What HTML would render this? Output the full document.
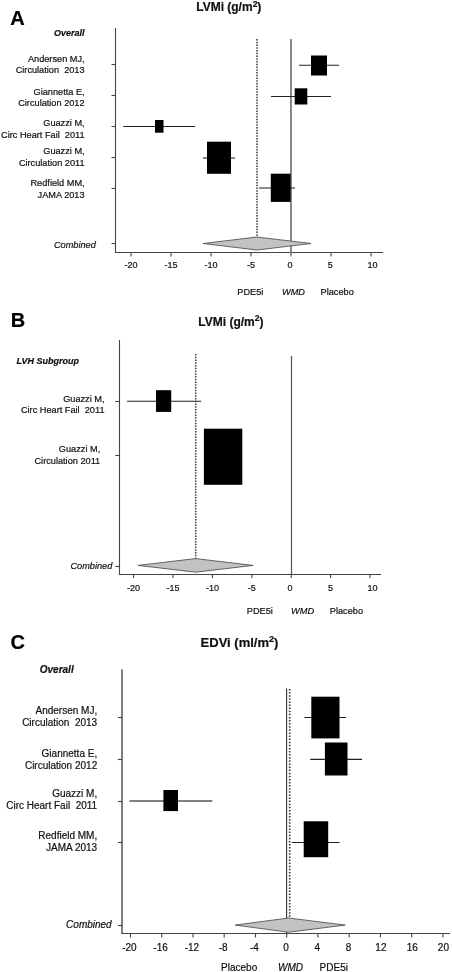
<!DOCTYPE html>
<html><head><meta charset="utf-8"><style>
html,body{margin:0;padding:0;background:#fff;width:452px;height:972px;overflow:hidden}
svg{display:block;font-family:"Liberation Sans",sans-serif;filter:grayscale(1)}
</style></head><body>
<svg width="452" height="972" viewBox="0 0 452 972">
<rect width="452" height="972" fill="#fff"/>
<text x="10.3" y="25" font-size="20" text-anchor="start" font-weight="bold" font-style="normal" fill="#000" stroke="#000" stroke-width="0.2" >A</text>
<text x="196.2" y="11" font-size="12" text-anchor="start" font-weight="bold" font-style="normal" fill="#111" stroke="#111" stroke-width="0.2" >LVMi (g/m<tspan font-size="8.5" dy="-4.2">2</tspan><tspan dy="4.2">)</tspan></text>
<line x1="115.5" y1="28" x2="115.5" y2="253.0" stroke="#444" stroke-width="1.1" />
<line x1="115.0" y1="252.5" x2="383" y2="252.5" stroke="#444" stroke-width="1.1" />
<line x1="111.5" y1="64.5" x2="115.5" y2="64.5" stroke="#444" stroke-width="1.1" />
<line x1="111.5" y1="95.5" x2="115.5" y2="95.5" stroke="#444" stroke-width="1.1" />
<line x1="111.5" y1="126.5" x2="115.5" y2="126.5" stroke="#444" stroke-width="1.1" />
<line x1="111.5" y1="157.5" x2="115.5" y2="157.5" stroke="#444" stroke-width="1.1" />
<line x1="111.5" y1="188.5" x2="115.5" y2="188.5" stroke="#444" stroke-width="1.1" />
<line x1="111.5" y1="243.5" x2="115.5" y2="243.5" stroke="#444" stroke-width="1.1" />
<line x1="131" y1="252.5" x2="131" y2="256.5" stroke="#444" stroke-width="1.1" />
<text x="131" y="267.5" font-size="9" text-anchor="middle" font-weight="normal" font-style="normal" fill="#111" stroke="#111" stroke-width="0.2" >-20</text>
<line x1="171" y1="252.5" x2="171" y2="256.5" stroke="#444" stroke-width="1.1" />
<text x="171" y="267.5" font-size="9" text-anchor="middle" font-weight="normal" font-style="normal" fill="#111" stroke="#111" stroke-width="0.2" >-15</text>
<line x1="211" y1="252.5" x2="211" y2="256.5" stroke="#444" stroke-width="1.1" />
<text x="211" y="267.5" font-size="9" text-anchor="middle" font-weight="normal" font-style="normal" fill="#111" stroke="#111" stroke-width="0.2" >-10</text>
<line x1="251" y1="252.5" x2="251" y2="256.5" stroke="#444" stroke-width="1.1" />
<text x="251" y="267.5" font-size="9" text-anchor="middle" font-weight="normal" font-style="normal" fill="#111" stroke="#111" stroke-width="0.2" >-5</text>
<line x1="291" y1="252.5" x2="291" y2="256.5" stroke="#444" stroke-width="1.1" />
<text x="290" y="267.5" font-size="9" text-anchor="middle" font-weight="normal" font-style="normal" fill="#111" stroke="#111" stroke-width="0.2" >0</text>
<line x1="331" y1="252.5" x2="331" y2="256.5" stroke="#444" stroke-width="1.1" />
<text x="330.3" y="267.5" font-size="9" text-anchor="middle" font-weight="normal" font-style="normal" fill="#111" stroke="#111" stroke-width="0.2" >5</text>
<line x1="371" y1="252.5" x2="371" y2="256.5" stroke="#444" stroke-width="1.1" />
<text x="372.5" y="267.5" font-size="9" text-anchor="middle" font-weight="normal" font-style="normal" fill="#111" stroke="#111" stroke-width="0.2" >10</text>
<line x1="257" y1="39" x2="257" y2="237.5" stroke="#3a3a3a" stroke-width="1.5" stroke-dasharray="1.4 1.35"/>
<line x1="291" y1="39" x2="291" y2="252.5" stroke="#888" stroke-width="2" />
<line x1="299" y1="65.3" x2="339" y2="65.3" stroke="#222" stroke-width="1.1" />
<rect x="311" y="55.5" width="16" height="20.0" fill="#000"/>
<line x1="271" y1="96.5" x2="331" y2="96.5" stroke="#222" stroke-width="1.1" />
<rect x="294.7" y="88.3" width="12.6" height="16.2" fill="#000"/>
<line x1="123.3" y1="126.5" x2="195.2" y2="126.5" stroke="#222" stroke-width="1.1" />
<rect x="155" y="120" width="8.5" height="12.7" fill="#000"/>
<line x1="203" y1="158" x2="235" y2="158" stroke="#222" stroke-width="1.1" />
<rect x="207" y="141.7" width="24" height="32.1" fill="#000"/>
<line x1="259" y1="188" x2="295" y2="188" stroke="#222" stroke-width="1.1" />
<rect x="270.8" y="173.7" width="19.8" height="28.2" fill="#000"/>
<polygon points="203,243.5 257,237 311,243.5 257,250" fill="#c2c2c2" stroke="#555" stroke-width="0.9"/>
<text x="84.6" y="36" font-size="9" text-anchor="end" font-weight="bold" font-style="italic" fill="#111" stroke="#111" stroke-width="0.2" >Overall</text>
<text x="84.6" y="62" font-size="9.2" text-anchor="end" font-weight="normal" font-style="normal" fill="#111" stroke="#111" stroke-width="0.2" >Andersen MJ,</text>
<text x="84.6" y="73.2" font-size="9.2" text-anchor="end" font-weight="normal" font-style="normal" fill="#111" stroke="#111" stroke-width="0.2" >Circulation&#160;&#160;2013</text>
<text x="84.6" y="94.6" font-size="9.2" text-anchor="end" font-weight="normal" font-style="normal" fill="#111" stroke="#111" stroke-width="0.2" >Giannetta E,</text>
<text x="84.6" y="105.8" font-size="9.2" text-anchor="end" font-weight="normal" font-style="normal" fill="#111" stroke="#111" stroke-width="0.2" >Circulation 2012</text>
<text x="84.6" y="126.4" font-size="9.2" text-anchor="end" font-weight="normal" font-style="normal" fill="#111" stroke="#111" stroke-width="0.2" >Guazzi M,</text>
<text x="84.6" y="137.6" font-size="9.2" text-anchor="end" font-weight="normal" font-style="normal" fill="#111" stroke="#111" stroke-width="0.2" >Circ Heart Fail&#160;&#160;2011</text>
<text x="84.6" y="154.3" font-size="9.2" text-anchor="end" font-weight="normal" font-style="normal" fill="#111" stroke="#111" stroke-width="0.2" >Guazzi M,</text>
<text x="84.6" y="165.5" font-size="9.2" text-anchor="end" font-weight="normal" font-style="normal" fill="#111" stroke="#111" stroke-width="0.2" >Circulation 2011</text>
<text x="84.6" y="186.4" font-size="9.2" text-anchor="end" font-weight="normal" font-style="normal" fill="#111" stroke="#111" stroke-width="0.2" >Redfield MM,</text>
<text x="84.6" y="197.6" font-size="9.2" text-anchor="end" font-weight="normal" font-style="normal" fill="#111" stroke="#111" stroke-width="0.2" >JAMA 2013</text>
<text x="95.8" y="247.7" font-size="9.2" text-anchor="end" font-weight="normal" font-style="italic" fill="#111" stroke="#111" stroke-width="0.2" >Combined</text>
<text x="237.3" y="295" font-size="9.2" text-anchor="start" font-weight="normal" font-style="normal" fill="#111" stroke="#111" stroke-width="0.2" >PDE5i</text>
<text x="282" y="295" font-size="9.2" text-anchor="start" font-weight="normal" font-style="italic" fill="#111" stroke="#111" stroke-width="0.2" >WMD</text>
<text x="320.6" y="295" font-size="9.2" text-anchor="start" font-weight="normal" font-style="normal" fill="#111" stroke="#111" stroke-width="0.2" >Placebo</text>
<text x="10.7" y="326.6" font-size="20" text-anchor="start" font-weight="bold" font-style="normal" fill="#000" stroke="#000" stroke-width="0.2" >B</text>
<text x="198.3" y="325.5" font-size="12" text-anchor="start" font-weight="bold" font-style="normal" fill="#111" stroke="#111" stroke-width="0.2" >LVMi (g/m<tspan font-size="8.5" dy="-4.2">2</tspan><tspan dy="4.2">)</tspan></text>
<line x1="119.5" y1="340" x2="119.5" y2="575.0" stroke="#444" stroke-width="1.1" />
<line x1="119.0" y1="574.5" x2="381" y2="574.5" stroke="#444" stroke-width="1.1" />
<line x1="115.3" y1="401.5" x2="119.5" y2="401.5" stroke="#444" stroke-width="1.1" />
<line x1="115.3" y1="455.5" x2="119.5" y2="455.5" stroke="#444" stroke-width="1.1" />
<line x1="115.3" y1="566.5" x2="119.5" y2="566.5" stroke="#444" stroke-width="1.1" />
<line x1="133.6" y1="574.5" x2="133.6" y2="578" stroke="#444" stroke-width="1.1" />
<text x="133.6" y="590.5" font-size="9" text-anchor="middle" font-weight="normal" font-style="normal" fill="#111" stroke="#111" stroke-width="0.2" >-20</text>
<line x1="173.0" y1="574.5" x2="173.0" y2="578" stroke="#444" stroke-width="1.1" />
<text x="173.0" y="590.5" font-size="9" text-anchor="middle" font-weight="normal" font-style="normal" fill="#111" stroke="#111" stroke-width="0.2" >-15</text>
<line x1="212.4" y1="574.5" x2="212.4" y2="578" stroke="#444" stroke-width="1.1" />
<text x="212.4" y="590.5" font-size="9" text-anchor="middle" font-weight="normal" font-style="normal" fill="#111" stroke="#111" stroke-width="0.2" >-10</text>
<line x1="251.8" y1="574.5" x2="251.8" y2="578" stroke="#444" stroke-width="1.1" />
<text x="251.8" y="590.5" font-size="9" text-anchor="middle" font-weight="normal" font-style="normal" fill="#111" stroke="#111" stroke-width="0.2" >-5</text>
<line x1="291.2" y1="574.5" x2="291.2" y2="578" stroke="#444" stroke-width="1.1" />
<text x="289.9" y="590.5" font-size="9" text-anchor="middle" font-weight="normal" font-style="normal" fill="#111" stroke="#111" stroke-width="0.2" >0</text>
<line x1="330.6" y1="574.5" x2="330.6" y2="578" stroke="#444" stroke-width="1.1" />
<text x="330.6" y="590.5" font-size="9" text-anchor="middle" font-weight="normal" font-style="normal" fill="#111" stroke="#111" stroke-width="0.2" >5</text>
<line x1="370.0" y1="574.5" x2="370.0" y2="578" stroke="#444" stroke-width="1.1" />
<text x="372.5" y="590.5" font-size="9" text-anchor="middle" font-weight="normal" font-style="normal" fill="#111" stroke="#111" stroke-width="0.2" >10</text>
<line x1="195.7" y1="354" x2="195.7" y2="559" stroke="#3a3a3a" stroke-width="1.5" stroke-dasharray="1.4 1.35"/>
<line x1="291.5" y1="356" x2="291.5" y2="574.5" stroke="#555" stroke-width="1.2" />
<line x1="127" y1="401.2" x2="201.2" y2="401.2" stroke="#222" stroke-width="1.1" />
<rect x="156" y="390.2" width="15.2" height="21.7" fill="#000"/>
<rect x="203.9" y="428.7" width="38.4" height="56.1" fill="#000"/>
<polygon points="138.1,565.4 195.5,558.6 253.1,565.4 195.5,572.2" fill="#c2c2c2" stroke="#555" stroke-width="0.9"/>
<text x="16.6" y="363.8" font-size="9" text-anchor="start" font-weight="bold" font-style="italic" fill="#111" stroke="#111" stroke-width="0.2" >LVH Subgroup</text>
<text x="104.5" y="402" font-size="9.2" text-anchor="end" font-weight="normal" font-style="normal" fill="#111" stroke="#111" stroke-width="0.2" >Guazzi M,</text>
<text x="104.5" y="413" font-size="9.2" text-anchor="end" font-weight="normal" font-style="normal" fill="#111" stroke="#111" stroke-width="0.2" >Circ Heart Fail&#160;&#160;2011</text>
<text x="100.2" y="452" font-size="9.2" text-anchor="end" font-weight="normal" font-style="normal" fill="#111" stroke="#111" stroke-width="0.2" >Guazzi M,</text>
<text x="100.2" y="463.5" font-size="9.2" text-anchor="end" font-weight="normal" font-style="normal" fill="#111" stroke="#111" stroke-width="0.2" >Circulation 2011</text>
<text x="112.3" y="569" font-size="9.2" text-anchor="end" font-weight="normal" font-style="italic" fill="#111" stroke="#111" stroke-width="0.2" >Combined</text>
<text x="246.8" y="614" font-size="9.2" text-anchor="start" font-weight="normal" font-style="normal" fill="#111" stroke="#111" stroke-width="0.2" >PDE5i</text>
<text x="291.1" y="614" font-size="9.2" text-anchor="start" font-weight="normal" font-style="italic" fill="#111" stroke="#111" stroke-width="0.2" >WMD</text>
<text x="329.8" y="614" font-size="9.2" text-anchor="start" font-weight="normal" font-style="normal" fill="#111" stroke="#111" stroke-width="0.2" >Placebo</text>
<text x="10.4" y="649.2" font-size="20" text-anchor="start" font-weight="bold" font-style="normal" fill="#000" stroke="#000" stroke-width="0.2" >C</text>
<text x="200.6" y="646.5" font-size="13" text-anchor="start" font-weight="bold" font-style="normal" fill="#111" stroke="#111" stroke-width="0.2" >EDVi (ml/m<tspan font-size="9.2" dy="-4.5">2</tspan><tspan dy="4.5">)</tspan></text>
<line x1="122" y1="669.5" x2="122" y2="934.0" stroke="#555" stroke-width="1.5" />
<line x1="121.3" y1="933.5" x2="450" y2="933.5" stroke="#444" stroke-width="1.1" />
<line x1="117.8" y1="717.5" x2="122" y2="717.5" stroke="#444" stroke-width="1.1" />
<line x1="117.8" y1="759.5" x2="122" y2="759.5" stroke="#444" stroke-width="1.1" />
<line x1="117.8" y1="801.5" x2="122" y2="801.5" stroke="#444" stroke-width="1.1" />
<line x1="117.8" y1="842.5" x2="122" y2="842.5" stroke="#444" stroke-width="1.1" />
<line x1="117.8" y1="925.5" x2="122" y2="925.5" stroke="#444" stroke-width="1.1" />
<line x1="130.5" y1="933.5" x2="130.5" y2="937.5" stroke="#444" stroke-width="1.1" />
<text x="129.4" y="950.7" font-size="10" text-anchor="middle" font-weight="normal" font-style="normal" fill="#111" stroke="#111" stroke-width="0.2" >-20</text>
<line x1="161.7" y1="933.5" x2="161.7" y2="937.5" stroke="#444" stroke-width="1.1" />
<text x="160.6" y="950.7" font-size="10" text-anchor="middle" font-weight="normal" font-style="normal" fill="#111" stroke="#111" stroke-width="0.2" >-16</text>
<line x1="193.0" y1="933.5" x2="193.0" y2="937.5" stroke="#444" stroke-width="1.1" />
<text x="191.9" y="950.7" font-size="10" text-anchor="middle" font-weight="normal" font-style="normal" fill="#111" stroke="#111" stroke-width="0.2" >-12</text>
<line x1="224.2" y1="933.5" x2="224.2" y2="937.5" stroke="#444" stroke-width="1.1" />
<text x="223.1" y="950.7" font-size="10" text-anchor="middle" font-weight="normal" font-style="normal" fill="#111" stroke="#111" stroke-width="0.2" >-8</text>
<line x1="255.5" y1="933.5" x2="255.5" y2="937.5" stroke="#444" stroke-width="1.1" />
<text x="254.4" y="950.7" font-size="10" text-anchor="middle" font-weight="normal" font-style="normal" fill="#111" stroke="#111" stroke-width="0.2" >-4</text>
<line x1="286.7" y1="933.5" x2="286.7" y2="937.5" stroke="#444" stroke-width="1.1" />
<text x="286.09999999999997" y="950.7" font-size="10" text-anchor="middle" font-weight="normal" font-style="normal" fill="#111" stroke="#111" stroke-width="0.2" >0</text>
<line x1="317.9" y1="933.5" x2="317.9" y2="937.5" stroke="#444" stroke-width="1.1" />
<text x="317.29999999999995" y="950.7" font-size="10" text-anchor="middle" font-weight="normal" font-style="normal" fill="#111" stroke="#111" stroke-width="0.2" >4</text>
<line x1="349.2" y1="933.5" x2="349.2" y2="937.5" stroke="#444" stroke-width="1.1" />
<text x="348.59999999999997" y="950.7" font-size="10" text-anchor="middle" font-weight="normal" font-style="normal" fill="#111" stroke="#111" stroke-width="0.2" >8</text>
<line x1="380.4" y1="933.5" x2="380.4" y2="937.5" stroke="#444" stroke-width="1.1" />
<text x="380.9" y="950.7" font-size="10" text-anchor="middle" font-weight="normal" font-style="normal" fill="#111" stroke="#111" stroke-width="0.2" >12</text>
<line x1="411.7" y1="933.5" x2="411.7" y2="937.5" stroke="#444" stroke-width="1.1" />
<text x="412.2" y="950.7" font-size="10" text-anchor="middle" font-weight="normal" font-style="normal" fill="#111" stroke="#111" stroke-width="0.2" >16</text>
<line x1="442.9" y1="933.5" x2="442.9" y2="937.5" stroke="#444" stroke-width="1.1" />
<text x="443.4" y="950.7" font-size="10" text-anchor="middle" font-weight="normal" font-style="normal" fill="#111" stroke="#111" stroke-width="0.2" >20</text>
<line x1="286.6" y1="688.4" x2="286.6" y2="933.5" stroke="#333" stroke-width="1.1" />
<line x1="289.7" y1="689" x2="289.7" y2="918" stroke="#3a3a3a" stroke-width="1.7" stroke-dasharray="1.5 1.6"/>
<line x1="304.3" y1="717.5" x2="346" y2="717.5" stroke="#222" stroke-width="1.2" />
<rect x="311.3" y="696.7" width="28.2" height="41.7" fill="#000"/>
<line x1="310.3" y1="759.3" x2="362" y2="759.3" stroke="#222" stroke-width="1.2" />
<rect x="324.9" y="742.5" width="22.6" height="33.0" fill="#000"/>
<line x1="129.5" y1="801" x2="212.3" y2="801" stroke="#808080" stroke-width="2" />
<rect x="163.4" y="790" width="14.6" height="21.1" fill="#000"/>
<line x1="292" y1="842.5" x2="339.6" y2="842.5" stroke="#222" stroke-width="1.2" />
<rect x="303.7" y="821.3" width="24.5" height="35.9" fill="#000"/>
<polygon points="235.1,925.1 288.5,918 345.2,925.1 288.5,932.2" fill="#c2c2c2" stroke="#555" stroke-width="0.9"/>
<text x="73.7" y="673.4" font-size="10" text-anchor="end" font-weight="bold" font-style="italic" fill="#111" stroke="#111" stroke-width="0.2" >Overall</text>
<text x="97.2" y="713.9" font-size="10" text-anchor="end" font-weight="normal" font-style="normal" fill="#111" stroke="#111" stroke-width="0.2" >Andersen MJ,</text>
<text x="97.2" y="725.9" font-size="10" text-anchor="end" font-weight="normal" font-style="normal" fill="#111" stroke="#111" stroke-width="0.2" >Circulation&#160;&#160;2013</text>
<text x="97.2" y="756.9" font-size="10" text-anchor="end" font-weight="normal" font-style="normal" fill="#111" stroke="#111" stroke-width="0.2" >Giannetta E,</text>
<text x="97.2" y="768.9" font-size="10" text-anchor="end" font-weight="normal" font-style="normal" fill="#111" stroke="#111" stroke-width="0.2" >Circulation 2012</text>
<text x="97.2" y="796.5" font-size="10" text-anchor="end" font-weight="normal" font-style="normal" fill="#111" stroke="#111" stroke-width="0.2" >Guazzi M,</text>
<text x="97.2" y="808.5" font-size="10" text-anchor="end" font-weight="normal" font-style="normal" fill="#111" stroke="#111" stroke-width="0.2" >Circ Heart Fail&#160;&#160;2011</text>
<text x="97.2" y="838.9" font-size="10" text-anchor="end" font-weight="normal" font-style="normal" fill="#111" stroke="#111" stroke-width="0.2" >Redfield MM,</text>
<text x="97.2" y="850.9" font-size="10" text-anchor="end" font-weight="normal" font-style="normal" fill="#111" stroke="#111" stroke-width="0.2" >JAMA 2013</text>
<text x="111.7" y="927.9" font-size="10" text-anchor="end" font-weight="normal" font-style="italic" fill="#111" stroke="#111" stroke-width="0.2" >Combined</text>
<text x="221.1" y="970.5" font-size="10" text-anchor="start" font-weight="normal" font-style="normal" fill="#111" stroke="#111" stroke-width="0.2" >Placebo</text>
<text x="278" y="970.5" font-size="10" text-anchor="start" font-weight="normal" font-style="italic" fill="#111" stroke="#111" stroke-width="0.2" >WMD</text>
<text x="319.6" y="970.5" font-size="10" text-anchor="start" font-weight="normal" font-style="normal" fill="#111" stroke="#111" stroke-width="0.2" >PDE5i</text>
</svg>
</body></html>
